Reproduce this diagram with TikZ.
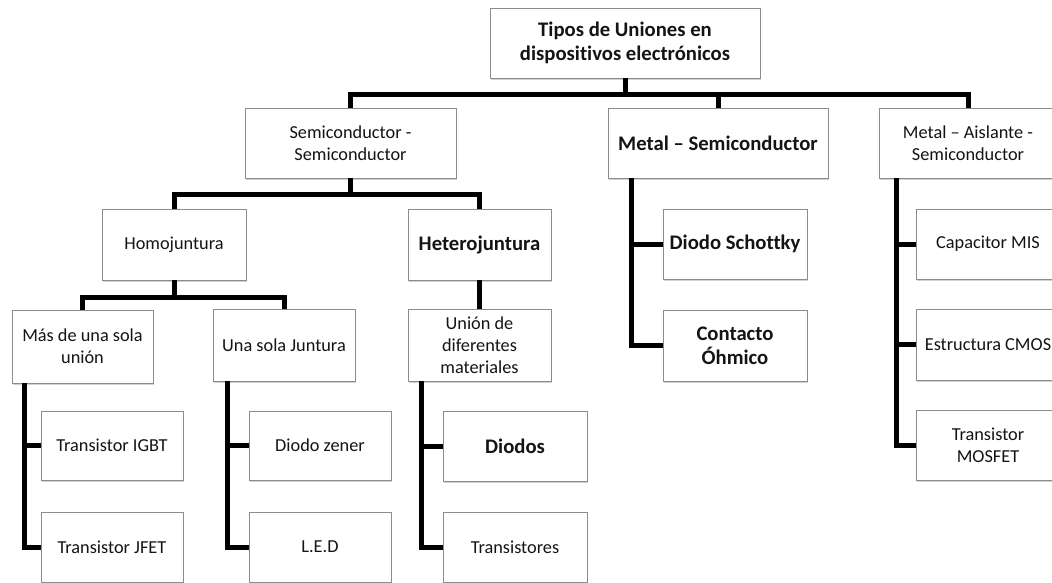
\documentclass[tikz,border=0pt]{standalone}
\usepackage{fontspec}
\setmainfont{Carlito}[Ligatures=NoCommon]
\usetikzlibrary{shadows}
\begin{document}
\begin{tikzpicture}[x=1pt, y=-1pt,
  box/.style={rectangle, draw=black!45, line width=0.8pt, fill=white,
    align=center, inner sep=2pt, text=black!92,
    font=\fontsize{18.3}{22}\selectfont,
    drop shadow={shadow xshift=1.2pt, shadow yshift=-2.2pt, fill=black!45, opacity=0.4}},
  strong/.style={font=\fontsize{20.7}{24}\selectfont\bfseries},
  conn/.style={draw=black, line width=5pt, line join=miter}]

\clip (0,0) rectangle (1052,583);

% top level
\node[box, strong, minimum width=270pt, minimum height=70pt] (root) at (625,43)
  {Tipos de Uniones en\\dispositivos electrónicos};

% second level
\node[box, minimum width=211pt, minimum height=70pt] (semi) at (350.5,143)
  {Semiconductor -\\Semiconductor};
\node[box, strong, minimum width=220pt, minimum height=70pt] (ms) at (718,143)
  {Metal – Semiconductor};
\node[box, minimum width=178pt, minimum height=70pt] (mas) at (968,143)
  {Metal – Aislante -\\Semiconductor};

% semiconductor - semiconductor branch
\node[box, minimum width=144pt, minimum height=71pt] (homo) at (174,244.5) {Homojuntura};
\node[box, strong, minimum width=143pt, minimum height=71pt] (hetero) at (479.5,244.5) {Heterojuntura};

\node[box, minimum width=141pt, minimum height=73pt] (masuna) at (82.5,346.5)
  {Más de una sola\\unión};
\node[box, minimum width=142pt, minimum height=72pt] (una) at (284,345) {Una sola Juntura};
\node[box, minimum width=143pt, minimum height=72pt] (union) at (479.5,345)
  {Unión de\\diferentes\\materiales};

\node[box, minimum width=142pt, minimum height=69pt] (igbt) at (112,445.5) {Transistor IGBT};
\node[box, minimum width=142pt, minimum height=70pt] (jfet) at (112,547) {Transistor JFET};
\node[box, minimum width=142pt, minimum height=69pt] (zener) at (320,445.5) {Diodo zener};
\node[box, minimum width=142pt, minimum height=70pt] (led) at (320,547) {L.E.D};
\node[box, strong, minimum width=144pt, minimum height=70pt] (diodos) at (515,446) {Diodos};
\node[box, minimum width=144pt, minimum height=70pt] (transis) at (515,547) {Transistores};

% metal - semiconductor branch
\node[box, strong, minimum width=144pt, minimum height=70pt] (schottky) at (735,244) {Diodo Schottky};
\node[box, strong, minimum width=144pt, minimum height=71pt] (contacto) at (735,345.5)
  {Contacto\\Óhmico};

% metal - aislante - semiconductor branch
\node[box, minimum width=144pt, minimum height=70pt] (capmis) at (988,244) {Capacitor MIS};
\node[box, minimum width=144pt, minimum height=71pt] (cmos) at (988,344.5) {Estructura CMOS};
\node[box, minimum width=144pt, minimum height=70pt] (mosfet) at (988,445)
  {Transistor\\MOSFET};

% connectors: horizontal buses
\draw[conn] (root.south) -- ++(0,16) -| (semi.north);
\draw[conn] (root.south) -- ++(0,16) -| (ms.north);
\draw[conn] (root.south) -- ++(0,16) -| (mas.north);

\draw[conn] (semi.south) -- ++(0,16) -| (homo.north);
\draw[conn] (semi.south) -- ++(0,16) -| (hetero.north);

\draw[conn] (homo.south) -- ++(0,17) -| (masuna.north);
\draw[conn] (homo.south) -- ++(0,17) -| (una.north);

\draw[conn] (hetero.south) -- (union.north);

% connectors: vertical lists
\draw[conn] ([xshift=13pt]masuna.south west) |- (igbt.west);
\draw[conn] ([xshift=13pt]masuna.south west) |- (jfet.west);

\draw[conn] ([xshift=15pt]una.south west) |- (zener.west);
\draw[conn] ([xshift=15pt]una.south west) |- (led.west);

\draw[conn] ([xshift=14pt]union.south west) |- (diodos.west);
\draw[conn] ([xshift=14pt]union.south west) |- (transis.west);

\draw[conn] ([xshift=24pt]ms.south west) |- (schottky.west);
\draw[conn] ([xshift=24pt]ms.south west) |- (contacto.west);

\draw[conn] ([xshift=18pt]mas.south west) |- (capmis.west);
\draw[conn] ([xshift=18pt]mas.south west) |- (cmos.west);
\draw[conn] ([xshift=18pt]mas.south west) |- (mosfet.west);
\end{tikzpicture}
\end{document}
